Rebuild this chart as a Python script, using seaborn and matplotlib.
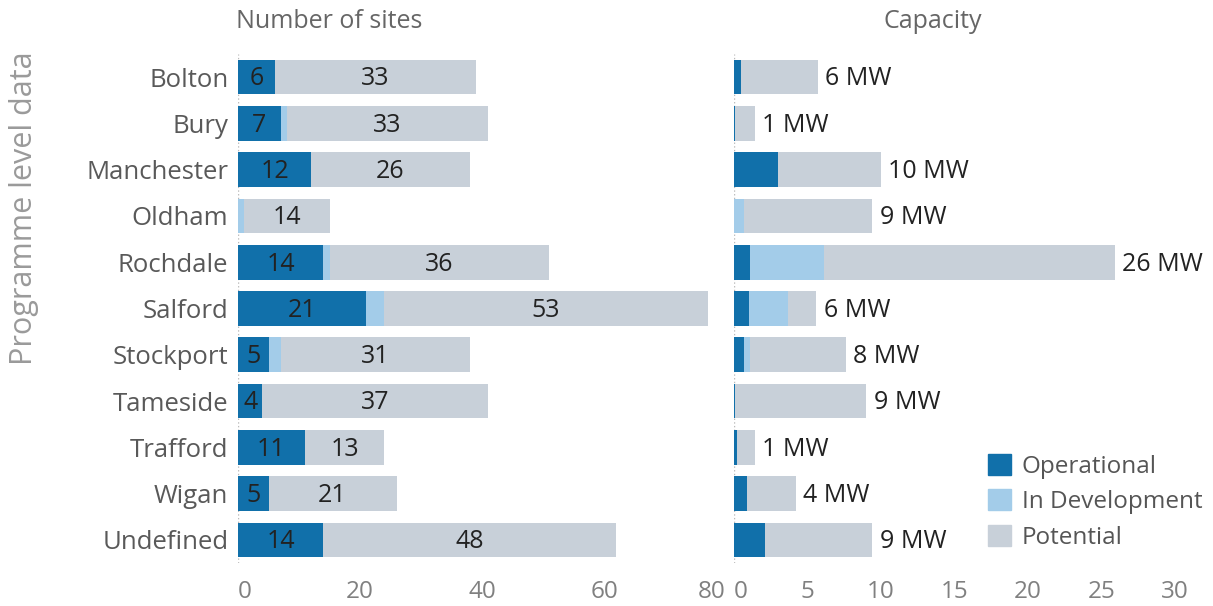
import numpy as np
import pandas as pd
import matplotlib.pyplot as plt
import seaborn as sns
from matplotlib.patches import Patch

# data
areas = ['Bolton', 'Bury', 'Manchester', 'Oldham', 'Rochdale', 'Salford',
         'Stockport', 'Tameside', 'Trafford', 'Wigan', 'Undefined']
sites_operational = [6, 7, 12, 0, 14, 21, 5, 4, 11, 5, 14]
sites_development = [0, 1, 0, 1, 1, 3, 2, 0, 0, 0, 0]
sites_potential = [33, 33, 26, 14, 36, 53, 31, 37, 13, 21, 48]

mw_operational = [0.5, 0.1, 3.0, 0.0, 1.1, 1.0, 0.7, 0.1, 0.2, 0.9, 2.1]
mw_development = [0.0, 0.0, 0.0, 0.7, 5.0, 2.7, 0.4, 0.0, 0.0, 0.0, 0.0]
mw_potential = [5.2, 1.3, 7.0, 8.7, 19.8, 1.9, 6.5, 8.9, 1.2, 3.3, 7.3]

status = ['Operational', 'In Development', 'Potential']
colors = ['#1170aa', '#a3cce9', '#c8d0d9']

sns.set_style('white')
plt.rcParams['font.family'] = ['Open Sans', 'DejaVu Sans']

sites = pd.DataFrame({'area': areas, 'op': sites_operational,
                      'dev': sites_development, 'pot': sites_potential})
mw = pd.DataFrame({'area': areas, 'op': mw_operational,
                   'dev': mw_development, 'pot': mw_potential})
for d in (sites, mw):
    d['op_dev'] = d['op'] + d['dev']
    d['total'] = d['op_dev'] + d['pot']

fig = plt.figure(figsize=(12.13, 6.06), dpi=100)
ax1 = fig.add_axes([238 / 1213, 43 / 606, 488 / 1213, 509 / 606])
ax2 = fig.add_axes([734 / 1213, 43 / 606, 466 / 1213, 509 / 606])

LABEL_SIZE = 18


def stacked(ax, d):
    # draw cumulative totals back to front so they look stacked
    for col, c in zip(['total', 'op_dev', 'op'], colors[::-1]):
        sns.barplot(data=d, x=col, y='area', color=c, width=0.75,
                    saturation=1, orient='h', linewidth=0, ax=ax)
    ax.axvline(0, color='#bbbbbb', ls=':', lw=1, zorder=0)
    sns.despine(ax=ax, left=True, bottom=True)
    ax.set_xlabel('')
    ax.set_ylabel('')
    ax.tick_params(axis='x', length=0, pad=12, labelsize=17.5, labelcolor='#808080')
    ax.tick_params(axis='y', length=0, pad=7, labelsize=18.5, labelcolor='#595959')


stacked(ax1, sites)
stacked(ax2, mw)

ax1.set_xlim(0, 80)
ax1.set_xticks([0, 20, 40, 60, 80])
ax2.set_xlim(0, 31.7)
ax2.set_xticks([0, 5, 10, 15, 20, 25, 30])
ax2.set_yticklabels([])
for ax in (ax1, ax2):
    ax.get_xticklabels()[0].set_horizontalalignment('left')
ax1.get_xticklabels()[-1].set_horizontalalignment('right')

# segment labels on the sites panel
for i, r in sites.iterrows():
    if r['op'] > 0:
        ax1.text(r['op'] / 2, i + 0.04, f"{r['op']}", ha='center', va='center',
                 fontsize=LABEL_SIZE, color='#222222')
    ax1.text(r['op_dev'] + r['pot'] / 2, i + 0.04, f"{r['pot']}", ha='center',
             va='center', fontsize=LABEL_SIZE, color='#222222')

# total labels on the capacity panel
for i, r in mw.iterrows():
    ax2.text(r['total'] + 0.5, i + 0.04, f"{r['total']:.0f} MW", ha='left',
             va='center', fontsize=LABEL_SIZE, color='#222222')

fig.text(236 / 1213, 1 - 22 / 606, 'Number of sites', ha='left', va='center',
         fontsize=18, color='#666666')
fig.text(884 / 1213, 1 - 22 / 606, 'Capacity', ha='left', va='center',
         fontsize=18, color='#666666')
fig.text(24 / 1213, 1 - 208 / 606, 'Programme level data', rotation=90,
         ha='center', va='center', fontsize=22, color='#9a9a9a')

handles = [Patch(color=c) for c in colors]
fig.legend(handles, status, loc='upper left', bbox_to_anchor=(978 / 1213, 1 - 444 / 606),
           frameon=False, fontsize=17.5, labelcolor='#555555', handlelength=0.95,
           handleheight=0.95, handletextpad=0.45, labelspacing=0.45, borderaxespad=0)

fig.savefig('out.png', dpi=100)
